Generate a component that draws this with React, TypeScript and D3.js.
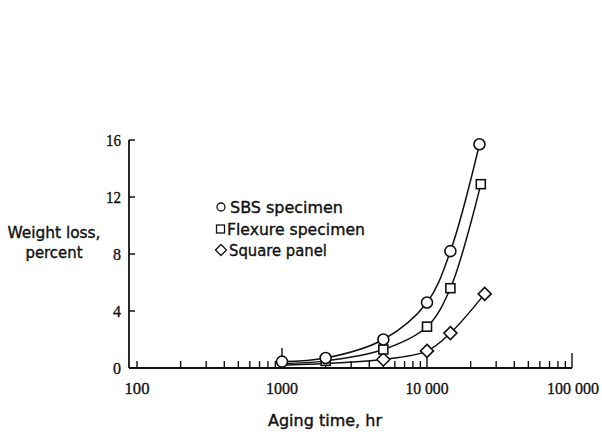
import React from "react";
import * as d3 from "d3";

// ---- data ----
const xTickValues = [100, 1000, 10000, 100000];
const xTickLabels = ["100", "1000", "10 000", "100 000"];
const yTickValues = [0, 4, 8, 12, 16];

// SBS specimen (circles)
const sbsTimes = [1000, 2000, 5000, 10000, 14500, 23000];
const sbsLoss = [0.45, 0.7, 2.0, 4.6, 8.2, 15.7];
// Flexure specimen (squares)
const flexTimes = [2000, 5000, 10000, 14500, 23500];
const flexLoss = [0.5, 1.3, 2.9, 5.6, 12.9];
// Square panel (diamonds)
const panelTimes = [5000, 10000, 14500, 25000];
const panelLoss = [0.6, 1.2, 2.45, 5.2];
// fitted curve start values (at 1000 hr)
const curveStartTime = [1000];
const flexStartLoss = [0.3];
const panelStartLoss = [0.2];

const legendLabels = ["SBS specimen", "Flexure specimen", "Square panel"];

export default function App() {
  const W = 602;
  const H = 442;
  const x = d3.scaleLog().domain([100, 100000]).range([137, 572]);
  const y = d3.scaleLinear().domain([0, 16]).range([368, 140]);
  const axisX = 129;

  const minorTicks: number[] = [];
  for (let dec = 100; dec < 100000; dec *= 10) {
    for (let k = 2; k <= 9; k++) minorTicks.push(dec * k);
  }

  const line = d3
    .line<[number, number]>()
    .x((d) => x(d[0]))
    .y((d) => y(d[1]))
    .curve(d3.curveCatmullRom.alpha(0.5));

  const sbsPts: [number, number][] = sbsTimes.map((t, i) => [t, sbsLoss[i]]);
  const flexPts: [number, number][] = [
    ...curveStartTime.map((t, i) => [t, flexStartLoss[i]] as [number, number]),
    ...flexTimes.map((t, i) => [t, flexLoss[i]] as [number, number]),
  ];
  const panelPts: [number, number][] = [
    ...curveStartTime.map((t, i) => [t, panelStartLoss[i]] as [number, number]),
    ...panelTimes.map((t, i) => [t, panelLoss[i]] as [number, number]),
  ];

  const sans = "'DejaVu Sans Condensed', 'Liberation Sans Narrow', 'Roboto', sans-serif";
  const serif = "'Liberation Serif', 'DejaVu Serif', serif";
  const ink = "#111";
  const thick = { stroke: ink, strokeWidth: 0.35 };

  const diamond = (cx: number, cy: number, r: number) =>
    `M${cx},${cy - r}L${cx + r},${cy}L${cx},${cy + r}L${cx - r},${cy}Z`;

  return (
    <svg
      width={W}
      height={H}
      style={{ position: "absolute", left: 0, top: 0, background: "#fff" }}
    >
      <rect x={0} y={0} width={W} height={H} fill="#fff" />
      {/* axes */}
      <line x1={axisX} x2={axisX} y1={y(16)} y2={y(0)} stroke={ink} strokeWidth={1.8} />
      <line x1={axisX} x2={x(100000)} y1={y(0)} y2={y(0)} stroke={ink} strokeWidth={1.8} />
      {yTickValues.map((v) => (
        <g key={"yt" + v}>
          <line x1={axisX} x2={axisX + 6} y1={y(v)} y2={y(v)} stroke={ink} strokeWidth={1.5} />
          <text
            x={121}
            y={y(v) + 6}
            textAnchor="end"
            fontFamily={serif}
            fontSize={17}
            fill={ink}
            {...thick}
            textLength={v >= 10 ? 15 : 8}
            lengthAdjust="spacingAndGlyphs"
          >
            {v}
          </text>
        </g>
      ))}
      {/* x ticks */}
      {minorTicks.map((t) => (
        <line
          key={"mt" + t}
          x1={x(t)}
          x2={x(t)}
          y1={y(0)}
          y2={y(0) - 7}
          stroke={ink}
          strokeWidth={1.4}
        />
      ))}
      {xTickValues.map((t, i) => (
        <g key={"xt" + t}>
          <line
            x1={x(t)}
            x2={x(t)}
            y1={y(0)}
            y2={y(0) - (i === 0 ? 7 : i === 3 ? 15 : 20)}
            stroke={ink}
            strokeWidth={1.4}
          />
          <text
            x={x(t) + (i === 3 ? 1 : 0)}
            y={394}
            textAnchor="middle"
            fontFamily={serif}
            fontSize={17}
            fill={ink}
            {...thick}
            textLength={[25, 32, 43, 52][i]}
            lengthAdjust="spacingAndGlyphs"
          >
            {xTickLabels[i]}
          </text>
        </g>
      ))}
      {/* curves */}
      <path d={line(sbsPts) || ""} fill="none" stroke={ink} strokeWidth={1.5} />
      <path d={line(flexPts) || ""} fill="none" stroke={ink} strokeWidth={1.5} />
      <path d={line(panelPts) || ""} fill="none" stroke={ink} strokeWidth={1.5} />
      {/* markers */}
      {panelTimes.map((t, i) => (
        <path
          key={"pd" + t}
          d={diamond(x(t), y(panelLoss[i]), 6.5)}
          fill="#fff"
          stroke={ink}
          strokeWidth={1.6}
        />
      ))}
      {flexTimes.map((t, i) => (
        <rect
          key={"fs" + t}
          x={x(t) - 4.5}
          y={y(flexLoss[i]) - 4.5}
          width={9}
          height={9}
          fill="#fff"
          stroke={ink}
          strokeWidth={1.6}
        />
      ))}
      {sbsTimes.map((t, i) => (
        <circle
          key={"sc" + t}
          cx={x(t)}
          cy={y(sbsLoss[i])}
          r={5.5}
          fill="#fff"
          stroke={ink}
          strokeWidth={1.6}
        />
      ))}
      {/* legend */}
      <circle cx={221} cy={207} r={4} fill="#fff" stroke={ink} strokeWidth={1.3} />
      <rect x={216.5} y={225} width={8} height={8} fill="#fff" stroke={ink} strokeWidth={1.3} />
      <path d={diamond(221, 250, 5.5)} fill="#fff" stroke={ink} strokeWidth={1.3} />
      {legendLabels.map((l, i) => (
        <text
          key={l}
          x={[230, 227, 229][i]}
          y={[213, 235, 256][i]}
          fontFamily={sans}
          fontSize={15.5}
          fill={ink}
          {...thick}
          textLength={[113, 138, 98][i]}
          lengthAdjust="spacingAndGlyphs"
        >
          {l}
        </text>
      ))}
      {/* axis titles */}
      <text
        x={54}
        y={238}
        textAnchor="middle"
        fontFamily={sans}
        fontSize={15.5}
        fill={ink}
        {...thick}
        textLength={93}
        lengthAdjust="spacingAndGlyphs"
      >
        Weight loss,
      </text>
      <text
        x={54}
        y={258}
        textAnchor="middle"
        fontFamily={sans}
        fontSize={15.5}
        fill={ink}
        {...thick}
        textLength={57}
        lengthAdjust="spacingAndGlyphs"
      >
        percent
      </text>
      <text
        x={325}
        y={426}
        textAnchor="middle"
        fontFamily={sans}
        fontSize={15.5}
        fill={ink}
        {...thick}
        textLength={114}
        lengthAdjust="spacingAndGlyphs"
      >
        Aging time,  hr
      </text>
    </svg>
  );
}
